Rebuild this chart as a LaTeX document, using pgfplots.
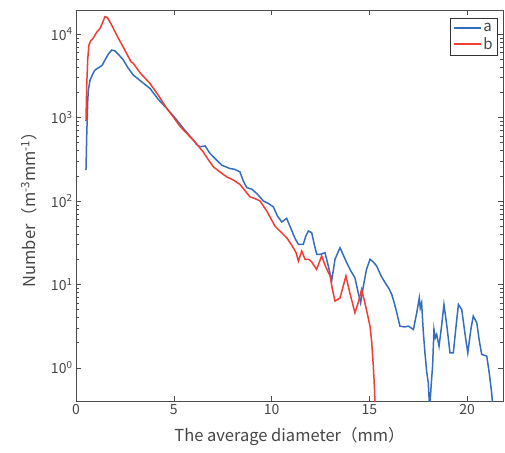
\documentclass[border=0pt]{standalone}
\usepackage{fontspec}
\setmainfont{Noto Sans CJK JP}
\usepackage{pgfplots}
\pgfplotsset{compat=1.18}
\definecolor{ablue}{RGB}{52,110,190}
\definecolor{bred}{RGB}{240,62,52}
\definecolor{txt}{RGB}{70,70,70}
\begin{document}
\begin{tikzpicture}
\begin{axis}[
  at={(0pt,0pt)}, anchor=south west,
  scale only axis, width=427pt, height=391pt,
  ymode=log,
  xmin=0, xmax=21.83, ymin=0.4, ymax=19500,
  xtick={0,5,10,15,20},
  ytick={1,10,100,1000,10000},
  yticklabels={10\textsuperscript{0},10\textsuperscript{1},10\textsuperscript{2},10\textsuperscript{3},10\textsuperscript{4}},
  /pgf/number format/assume math mode=true,
  tick label style={font=\fontsize{14}{16}\selectfont, text=txt},
  label style={font=\fontsize{16.5}{19}\selectfont, text=txt},
  xlabel={The average diameter（mm）},
  ylabel={Number（m\textsuperscript{-3}mm\textsuperscript{-1}）},
  xlabel style={yshift=-6pt},
  ylabel style={yshift=7pt},
  tick align=inside,
  major tick length=5pt, minor tick length=3pt,
  axis line style={draw=black!70, line width=0.8pt},
  every tick/.style={black!70, line width=0.6pt},
  legend style={at={(1,1)}, anchor=north east, xshift=-5pt, yshift=-8pt,
    draw=black!80, line width=0.6pt, font=\fontsize{15}{16}\selectfont,
    text=txt, inner sep=3pt, row sep=0pt},
  legend cell align=left,
  legend image code/.code={\draw[#1, line width=1.5pt] (0cm,0cm) -- (0.95cm,0cm);},
]
\addplot[ablue, line width=1.5pt] coordinates {
(0.51,234) (0.55,631) (0.60,1585) (0.63,2138) (0.72,2818) (0.85,3311) (0.97,3715)
(1.10,3890) (1.23,4074) (1.35,4266) (1.48,4898) (1.65,5754) (1.83,6457) (1.99,6310)
(2.20,5623) (2.42,4898) (2.65,3981) (2.93,3236) (3.35,2692) (3.78,2239) (4.20,1660)
(4.64,1288) (5.05,1000) (5.49,741) (6.00,537) (6.15,479) (6.34,447) (6.60,457)
(6.85,372) (7.15,316) (7.45,269) (7.87,245) (8.10,240) (8.38,224) (8.55,174)
(8.73,145) (9.00,138) (9.24,123) (9.58,100) (9.85,93) (10.09,85) (10.30,66)
(10.52,56) (10.77,62) (11.00,46) (11.20,35.5) (11.37,30.2) (11.62,30.2) (11.75,38)
(11.88,43.7) (12.05,41.7) (12.18,30.2) (12.31,22.9) (12.50,22.9) (12.73,24)
(12.90,16.6) (13.07,11) (13.24,20) (13.50,27.5) (13.65,22.9) (13.84,18.2)
(14.05,14.5) (14.26,12) (14.43,7.9) (14.55,6.0) (14.69,9.5) (14.85,15.1)
(15.03,20) (15.20,18.6) (15.37,16.6) (15.60,12.6) (15.80,10.5) (16.00,8.9)
(16.14,7.6) (16.28,5.9) (16.40,4.57) (16.56,3.16) (16.80,3.09) (16.99,3.16)
(17.25,2.88) (17.42,4.57) (17.55,6.9) (17.60,5.2) (17.67,6.0) (17.75,2.8)
(17.84,1.51) (17.93,0.89) (18.01,0.66) (18.08,0.316) (18.16,0.63) (18.23,1.05)
(18.30,2.88) (18.37,2.29) (18.44,2.51) (18.56,1.82) (18.69,3.16) (18.81,5.75)
(18.95,3.31) (19.12,1.51) (19.29,1.51) (19.42,3.0) (19.55,5.75) (19.72,5.0)
(19.88,2.63) (20.03,1.51) (20.18,2.82) (20.31,4.17) (20.49,3.47) (20.62,2.09)
(20.74,1.45) (21.00,1.38) (21.12,0.89) (21.25,0.50) (21.32,0.316)
};
\addlegendentry{a}
\addplot[bred, line width=1.5pt] coordinates {
(0.51,912) (0.55,2512) (0.60,5012) (0.66,7413) (0.75,8318) (0.87,8913) (1.05,10470)
(1.23,11750) (1.38,14130) (1.48,16220) (1.60,15850) (1.80,13180) (2.10,9550)
(2.45,6760) (2.81,4677) (2.93,4467) (3.30,3388) (3.78,2570) (4.26,1778) (4.64,1288)
(5.00,1000) (5.30,794) (5.62,661) (6.00,537) (6.25,457) (6.50,389) (6.75,316)
(7.02,257) (7.35,224) (7.70,195) (8.05,178) (8.38,158) (8.65,132) (8.90,112)
(9.15,107) (9.41,100) (9.75,76) (10.17,50) (10.50,42) (10.80,35.5) (11.11,27.5)
(11.25,24) (11.37,19) (11.54,25.1) (11.71,20) (11.90,20) (12.05,18.6) (12.30,15.1)
(12.56,21.9) (12.75,16.6) (12.99,12.6) (13.10,8.9) (13.24,6.3) (13.50,6.9)
(13.80,12.6) (14.00,7.9) (14.26,4.57) (14.45,6.3) (14.60,8.7) (14.77,6.0)
(14.92,4.17) (15.03,3.16) (15.12,2.0) (15.20,1.05) (15.26,0.56) (15.30,0.316)
};
\addlegendentry{b}
\end{axis}
\pgfresetboundingbox
\path (-76pt,-51pt) rectangle (429pt,401pt);
\end{tikzpicture}
\end{document}
